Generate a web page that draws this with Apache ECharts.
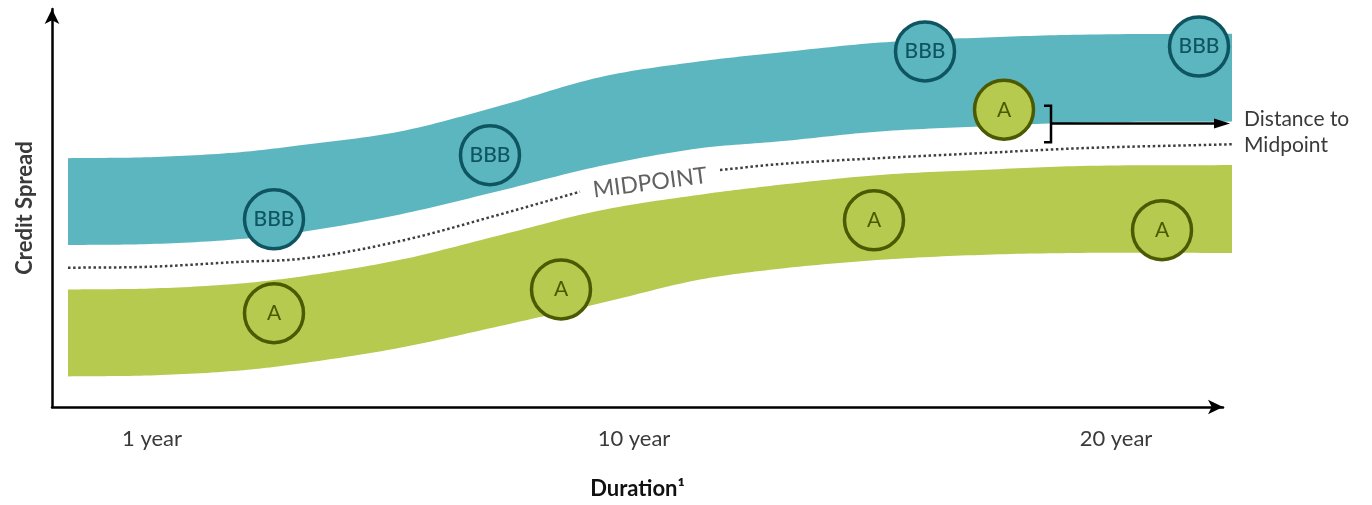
<!DOCTYPE html>
<html>
<head>
<meta charset="utf-8">
<title>Credit Spread vs Duration</title>
<script src="https://cdn.jsdelivr.net/npm/echarts@6/dist/echarts.min.js"></script>
<style>
  html, body { margin: 0; padding: 0; background: #fff; }
  #chart { width: 1372px; height: 505px; }
</style>
</head>
<body>
<div id="chart"></div>
<script>
// Duration positions sampled along the bands (conceptual units)
const durationSamples = [1.6, 9.8, 18.8, 24.8, 34.8, 44.8, 54.8, 64.8, 72.8, 82.8, 92.8, 102.8, 118.0];

// BBB spread band: upper and lower edges
const bbbUpper = [25.2, 25.3, 25.8, 26.5, 27.9, 30.5, 33.4, 35.0, 35.9, 36.9, 37.4, 37.7, 37.8];
const bbbLower = [16.4, 16.5, 17.0, 17.7, 19.5, 21.9, 24.4, 26.2, 26.9, 27.9, 28.4, 28.8, 28.9];

// A spread band: upper and lower edges
const aUpper = [11.9, 12.0, 12.5, 13.2, 14.9, 17.4, 19.9, 21.5, 22.5, 23.5, 24.0, 24.4, 24.5];
const aLower = [3.1, 3.2, 3.7, 4.4, 6.0, 8.2, 10.5, 12.9, 14.0, 14.9, 15.4, 15.6, 15.6];

// Midpoint curve, split around its label
const midpointLeft = [[1.6, 14.1], [9.8, 14.2], [18.8, 14.7], [24.8, 15.0], [34.8, 16.8], [44.8, 19.5], [52.8, 21.8]];
const midpointRight = [[66.8, 24.0], [72.8, 24.6], [82.8, 25.2], [92.8, 25.7], [102.8, 26.2], [118.0, 26.6]];
const midpointLabelAt = [59.8, 22.7];

// Individual bonds
const bbbBonds = [[22.2, 19.0], [43.8, 25.5], [87.3, 36.0], [114.7, 36.5]];
const aBonds = [[22.2, 9.5], [50.9, 11.9], [82.2, 18.9], [111.0, 17.9]];
const aBondWide = [[95.2, 30.1]];

// Bracket and arrow showing distance to the midpoint
const bracket = [[99.2, 30.5], [99.9, 30.5], [99.9, 26.8], [99.2, 26.8]];
const arrowFrom = [99.9, 28.7];
const arrowTo = [117.8, 28.7];

// Axis tick labels
const tickValues = [10, 58.2, 106.4];
const tickLabels = ['1 year', '10 year', '20 year'];

const TEAL = '#5cb6bf';
const TEAL_DARK = '#0f5561';
const GREEN = '#b6ca4f';
const GREEN_DARK = '#4b5a00';
const TEXT = '#3a3a3a';
const FONT = 'Lato, "Open Sans", sans-serif';

// Smooth curve through pixel points (cubic Hermite, averaged slopes), densified
function smoothPoints(pts, steps) {
  const n = pts.length;
  if (n < 3) return pts.slice();
  const d = [];
  for (let i = 0; i < n - 1; i++) {
    d.push((pts[i + 1][1] - pts[i][1]) / (pts[i + 1][0] - pts[i][0]));
  }
  const m = pts.map((p, i) => i === 0 ? d[0] : i === n - 1 ? d[n - 2] : (d[i - 1] + d[i]) / 2);
  const out = [pts[0]];
  for (let i = 0; i < n - 1; i++) {
    const [x0, y0] = pts[i];
    const [x1, y1] = pts[i + 1];
    const h = x1 - x0;
    for (let s = 1; s <= steps; s++) {
      const t = s / steps, t2 = t * t, t3 = t2 * t;
      const y = (2 * t3 - 3 * t2 + 1) * y0 + (t3 - 2 * t2 + t) * h * m[i]
              + (-2 * t3 + 3 * t2) * y1 + (t3 - t2) * h * m[i + 1];
      out.push([x0 + t * h, y]);
    }
  }
  return out;
}

function bandSeries(name, lower, upper, color) {
  return {
    name: name, type: 'custom', coordinateSystem: 'cartesian2d', clip: false, silent: true, z: 1,
    data: durationSamples.map((x, i) => [x, lower[i], upper[i]]),
    renderItem: (params, api) => {
      if (params.dataIndex !== 0) return null;
      const top = smoothPoints(durationSamples.map((x, i) => api.coord([x, upper[i]])), 16);
      const bottom = smoothPoints(durationSamples.map((x, i) => api.coord([x, lower[i]])), 16);
      return {
        type: 'polygon',
        shape: { points: top.concat(bottom.reverse()) },
        style: { fill: color, stroke: null }
      };
    }
  };
}

function dottedSeries(name, pts) {
  return {
    name: name, type: 'custom', coordinateSystem: 'cartesian2d', clip: false, silent: true, z: 3,
    data: pts,
    renderItem: (params, api) => {
      if (params.dataIndex !== 0) return null;
      return {
        type: 'polyline',
        shape: { points: smoothPoints(pts.map(p => api.coord(p)), 16) },
        style: { stroke: '#3f3f3f', lineWidth: 2.5, lineDash: [2.5, 2.6], fill: null, lineCap: 'butt' }
      };
    }
  };
}

function bondSeries(data, text, fill, stroke, weight) {
  return {
    type: 'scatter', data: data, symbol: 'circle', symbolSize: 59, z: 5, silent: true,
    itemStyle: { color: fill, borderColor: stroke, borderWidth: 3.5, opacity: 1 },
    label: {
      show: true, position: 'inside', formatter: text,
      fontFamily: FONT, fontSize: 21, fontWeight: weight, color: stroke
    }
  };
}

const distanceSeries = {
  name: 'distance', type: 'custom', coordinateSystem: 'cartesian2d', clip: false, silent: true, z: 6,
  data: [arrowFrom],
  renderItem: (params, api) => {
    const a = api.coord(arrowFrom);
    const b = api.coord(arrowTo);
    const headLen = 16, headHalf = 5;
    const stroke = { stroke: '#000', lineWidth: 2.5, fill: null };
    return {
      type: 'group',
      children: [
        { type: 'polyline', shape: { points: bracket.map(p => api.coord(p)) }, style: stroke },
        { type: 'line', shape: { x1: a[0], y1: a[1], x2: b[0] - headLen + 1, y2: b[1] }, style: stroke },
        {
          type: 'polygon',
          shape: { points: [[b[0], b[1]], [b[0] - headLen, b[1] - headHalf], [b[0] - headLen, b[1] + headHalf]] },
          style: { fill: '#000', stroke: null }
        }
      ]
    };
  }
};

const axisArrow = { symbol: ['none', 'arrow'], symbolSize: [11, 15] };

const chart = echarts.init(document.getElementById('chart'), null, { renderer: 'canvas' });

chart.setOption({
  animation: false,
  backgroundColor: '#ffffff',
  grid: { left: 52, right: 149, top: 9, bottom: 93, containLabel: false },
  xAxis: {
    type: 'value', min: 0, max: 117.1,
    name: 'Duration\u00b9', nameLocation: 'middle', nameGap: 71,
    nameTextStyle: { fontFamily: FONT, fontSize: 22, fontWeight: 'bold', color: '#111', letterSpacing: 0.4 },
    axisLine: Object.assign({ show: true, lineStyle: { color: '#000', width: 2.5 } }, axisArrow),
    axisTick: { show: false },
    splitLine: { show: false },
    axisLabel: {
      customValues: tickValues,
      formatter: v => tickLabels[tickValues.indexOf(v)] || '',
      margin: 21, fontFamily: FONT, fontSize: 22, color: TEXT, letterSpacing: 0.5
    }
  },
  yAxis: {
    type: 'value', min: 0, max: 40.3,
    name: 'Credit Spread', nameLocation: 'middle', nameGap: 16,
    nameTextStyle: { fontFamily: FONT, fontSize: 22, fontWeight: 'bold', color: TEXT, letterSpacing: 0.9 },
    axisLine: Object.assign({ show: true, lineStyle: { color: '#000', width: 2.5 } }, axisArrow),
    axisTick: { show: false },
    splitLine: { show: false },
    axisLabel: { show: false }
  },
  series: [
    bandSeries('bbb', bbbLower, bbbUpper, TEAL),
    bandSeries('a', aLower, aUpper, GREEN),
    dottedSeries('midpoint-left', midpointLeft),
    dottedSeries('midpoint-right', midpointRight),
    {
      name: 'midpoint-label', type: 'scatter', symbolSize: 0, z: 4, silent: true,
      data: [midpointLabelAt],
      label: {
        show: true, position: 'inside', formatter: 'MIDPOINT', rotate: 7.4,
        fontFamily: FONT, fontSize: 23, color: TEXT, letterSpacing: 1.5
      }
    },
    bondSeries(bbbBonds, 'BBB', TEAL, TEAL_DARK, 500),
    bondSeries(aBonds, 'A', GREEN, GREEN_DARK, 'normal'),
    bondSeries(aBondWide, 'A', GREEN, GREEN_DARK, 'normal'),
    distanceSeries
  ],
  graphic: [{
    type: 'text', left: 1244, top: 106, silent: true,
    style: {
      text: 'Distance to\nMidpoint', fontFamily: FONT, fontSize: 21,
      lineHeight: 26, fill: TEXT, letterSpacing: 0.4
    }
  }]
});
</script>
</body>
</html>
